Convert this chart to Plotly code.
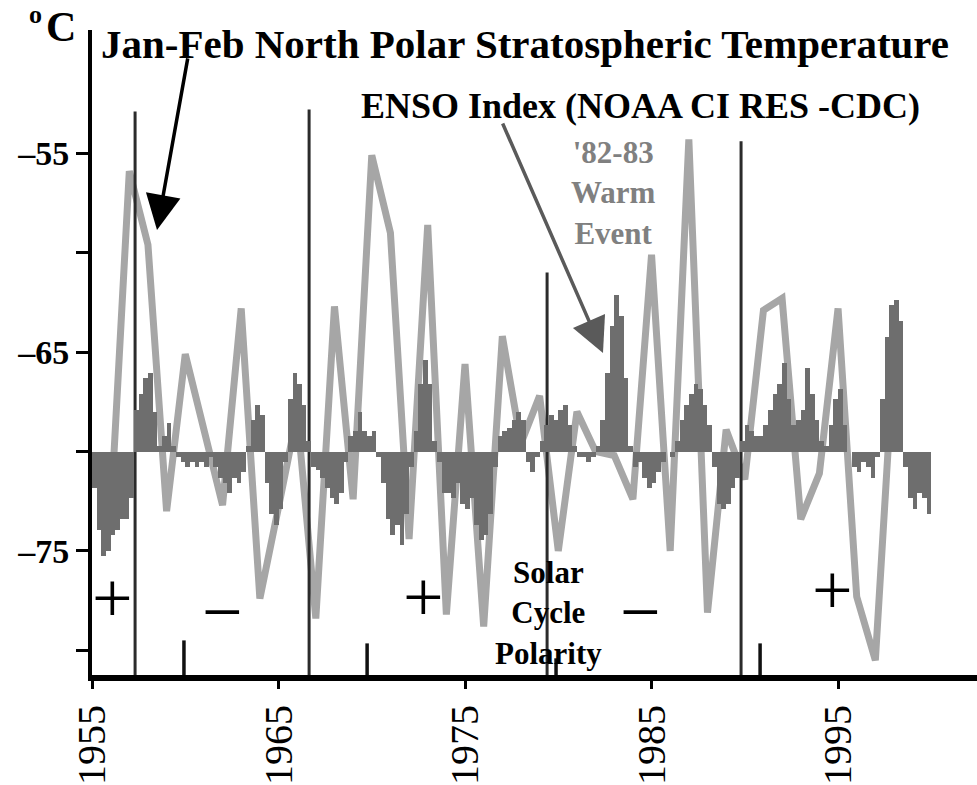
import plotly.graph_objects as go

# ---------------- data ----------------
temp_years = list(range(1956, 1999))
temp_values = [-73.2, -55.9, -59.6, -73.0, -65.1, -69.0, -72.7, -62.8, -77.4, -72.8,
               -68.1, -78.4, -62.7, -72.4, -55.1, -59.0, -74.4, -58.6, -78.2, -65.6,
               -78.8, -64.2, -69.6, -67.2, -75.0, -68.0, -70.0, -70.2, -72.4, -60.1,
               -75.0, -54.3, -78.1, -68.9, -71.4, -62.9, -62.3, -73.4, -71.1, -62.8,
               -77.3, -80.5, -65.0]

enso_first_year = 1955
enso_quarterly = [
    [-0.7, -1.5, -2.0, -1.9],   # 1955
    [-1.6, -1.5, -1.3, -1.3],   # 1956
    [-0.9, 0.8, 1.1, 1.4],      # 1957
    [1.5, 0.75, 0.1, 0.3],      # 1958
    [0.55, 0.1, -0.1, -0.2],    # 1959
    [-0.3, -0.2, -0.3, -0.2],   # 1960
    [-0.3, -0.1, -0.3, -0.5],   # 1961
    [-0.6, -0.8, -0.5, -0.6],   # 1962
    [-0.4, 0.1, 0.6, 0.9],      # 1963
    [0.7, -0.6, -1.2, -1.4],    # 1964
    [-1.1, -0.2, 1.0, 1.5],     # 1965
    [1.3, 0.9, 0.2, -0.3],      # 1966
    [-0.35, -0.5, -0.7, -0.9],  # 1967
    [-1.0, -0.8, -0.2, 0.3],    # 1968
    [0.4, 0.75, 0.4, 0.3],      # 1969
    [0.4, -0.1, -0.6, -1.3],    # 1970
    [-1.6, -1.4, -1.8, -1.2],   # 1971
    [-0.3, 0.4, 1.3, 1.75],     # 1972
    [1.3, 0.2, -0.2, -0.8],     # 1973
    [-0.8, -0.9, -0.6, -1.0],   # 1974
    [-1.1, -0.9, -1.4, -1.7],   # 1975
    [-1.6, -1.2, -0.3, 0.3],    # 1976
    [0.4, 0.45, 0.6, 0.75],     # 1977
    [0.6, -0.2, -0.4, -0.1],    # 1978
    [0.2, 0.5, 0.7, 0.6],       # 1979
    [0.8, 0.9, 0.5, 0.1],       # 1980
    [-0.1, -0.1, -0.2, -0.1],   # 1981
    [0.1, 0.6, 1.5, 2.4],       # 1982
    [3.0, 2.6, 1.4, 0.1],       # 1983
    [-0.3, -0.2, -0.5, -0.7],   # 1984
    [-0.6, -0.4, -0.2, 0.0],    # 1985
    [-0.1, 0.2, 0.6, 0.9],      # 1986
    [1.1, 1.3, 1.2, 0.9],       # 1987
    [0.5, -0.3, -1.0, -1.1],    # 1988
    [-1.0, -0.7, -0.5, 0.2],    # 1989
    [0.5, 0.4, 0.3, 0.3],       # 1990
    [0.5, 0.8, 1.1, 1.3],       # 1991
    [1.7, 1.0, 0.5, 0.6],       # 1992
    [0.8, 1.6, 1.1, 0.6],       # 1993
    [0.2, 0.1, 0.5, 1.0],       # 1994
    [1.2, 0.5, 0.0, -0.3],      # 1995
    [-0.4, -0.2, -0.3, -0.5],   # 1996
    [-0.1, 1.0, 2.2, 2.8],      # 1997
    [2.9, 2.5, -0.3, -0.9],     # 1998
    [-1.1, -0.8, -0.9, -1.2],   # 1999
]

reversal_years = [1957.31, 1966.64, 1979.40, 1989.80]
reversal_tops = [-52.9, -52.8, -61.0, -54.4]

solar_max_years = [1959.93, 1969.75, 1979.88, 1990.82]
solar_max_tops = [-79.5, -79.65, -80.4, -79.65]

x_ticks = [1955, 1965, 1975, 1985, 1995]
y_ticks = [-80, -75, -70, -65, -60, -55]
y_ticktext = ['', '<b>\u201375</b>', '', '<b>\u201365</b>', '', '<b>\u201355</b>']

polarity_signs = ['+', '\u2212', '+', '\u2212', '+']

# ---------------- layout constants ----------------
W, H = 977, 785
L, R, T, B = 92, 0, 30, 100
YMIN, YMAX = -81.24, -48.8
XMIN, XMAX = 1955, 2002.45
ENSO_SCALE = 2.625   # deg C per index unit on the drawing
ENSO_BASE = -70.0

FONT = 'Liberation Serif'

enso_vals = [v for yr in enso_quarterly for v in yr]
enso_x = [enso_first_year + 0.25 * i + 0.125 for i in range(len(enso_vals))]

fig = go.Figure()

fig.add_trace(go.Bar(
    x=enso_x, y=enso_vals, width=0.25, yaxis='y2',
    marker=dict(color='#6e6e6e', line=dict(width=0)),
    showlegend=False, hoverinfo='skip'))

fig.add_trace(go.Scatter(
    x=temp_years, y=temp_values, mode='lines',
    line=dict(color='#a6a6a6', width=7),
    showlegend=False))

# reversal lines
rx, ry = [], []
for xv, top in zip(reversal_years, reversal_tops):
    rx += [xv, xv, None]
    ry += [YMIN, top, None]
fig.add_trace(go.Scatter(x=rx, y=ry, mode='lines',
                         line=dict(color='#2b2b2b', width=3),
                         showlegend=False, hoverinfo='skip'))

sx, sy = [], []
for xv, top in zip(solar_max_years, solar_max_tops):
    sx += [xv, xv, None]
    sy += [YMIN, top, None]
fig.add_trace(go.Scatter(x=sx, y=sy, mode='lines',
                         line=dict(color='#111111', width=3.5),
                         showlegend=False, hoverinfo='skip'))


def pp(xp, yp):
    return (xp - L) / (W - L - R), (H - B - yp) / (H - T - B)


annotations = []


def add_text(text, xp, yp, size, color='black', xanchor='center', yanchor='middle', bold=True):
    x, y = pp(xp, yp)
    annotations.append(dict(
        text=f'<b>{text}</b>' if bold else text, x=x, y=y, xref='paper', yref='paper',
        xanchor=xanchor, yanchor=yanchor, showarrow=False,
        font=dict(family=FONT, size=size, color=color), align='center'))


add_text('o', 35, 14, 26)
add_text('C', 61, 27, 42)
add_text('Jan-Feb North Polar Stratospheric Temperature', 99, 44, 41, xanchor='left')
add_text('ENSO Index (NOAA CI RES -CDC)', 359, 107, 36, xanchor='left')
add_text("'82-83<br>Warm<br>Event", 613, 196, 31, color='#808080')
add_text('Solar<br>Cycle<br>Polarity', 548, 622, 31)

sign_pos = [(112, 607), (222, 621), (423, 606), (640, 621), (832, 599)]
for s, (xp, yp) in zip(polarity_signs, sign_pos):
    add_text(s, xp, yp, 72, bold=False)


# arrows (tip given in data coords via pixel conversion)
def data_xy(xp, yp):
    x = XMIN + (xp - L) / (W - L - R) * (XMAX - XMIN)
    y = YMIN + (H - B - yp) / (H - T - B) * (YMAX - YMIN)
    return x, y


tx, ty = data_xy(157, 233)
annotations.append(dict(x=tx, y=ty, xref='x', yref='y', ax=31, ay=-173, text='',
                        showarrow=True, arrowhead=2, arrowsize=2.0, arrowwidth=3.5,
                        arrowcolor='black'))
tx, ty = data_xy(603, 358)
annotations.append(dict(x=tx, y=ty, xref='x', yref='y', ax=-101, ay=-231, text='',
                        showarrow=True, arrowhead=2, arrowsize=2.0, arrowwidth=3.5,
                        arrowcolor='#5a5a5a'))

y2min = (YMIN - ENSO_BASE) / ENSO_SCALE
y2max = (YMAX - ENSO_BASE) / ENSO_SCALE

fig.update_layout(
    width=W, height=H,
    margin=dict(l=L, r=R, t=T, b=B, pad=0),
    paper_bgcolor='white', plot_bgcolor='white',
    bargap=0, barmode='overlay',
    showlegend=False,
    annotations=annotations,
    xaxis=dict(range=[XMIN, XMAX], tickvals=x_ticks, ticktext=[str(v) for v in x_ticks],
               tickangle=-90, ticks='outside', ticklen=8, tickwidth=3, tickcolor='black',
               showline=True, linewidth=6, linecolor='black', showgrid=False, zeroline=False,
               tickfont=dict(family=FONT, size=40, color='black')),
    yaxis=dict(range=[YMIN, YMAX], tickvals=y_ticks, ticktext=y_ticktext,
               ticks='outside', ticklen=12, tickwidth=3, tickcolor='black',
               showline=True, linewidth=4, linecolor='black', showgrid=False, zeroline=False,
               tickfont=dict(family=FONT, size=34, color='black')),
    yaxis2=dict(range=[y2min, y2max], overlaying='y', visible=False, showgrid=False,
                zeroline=False),
)

fig.write_html('out.html')
